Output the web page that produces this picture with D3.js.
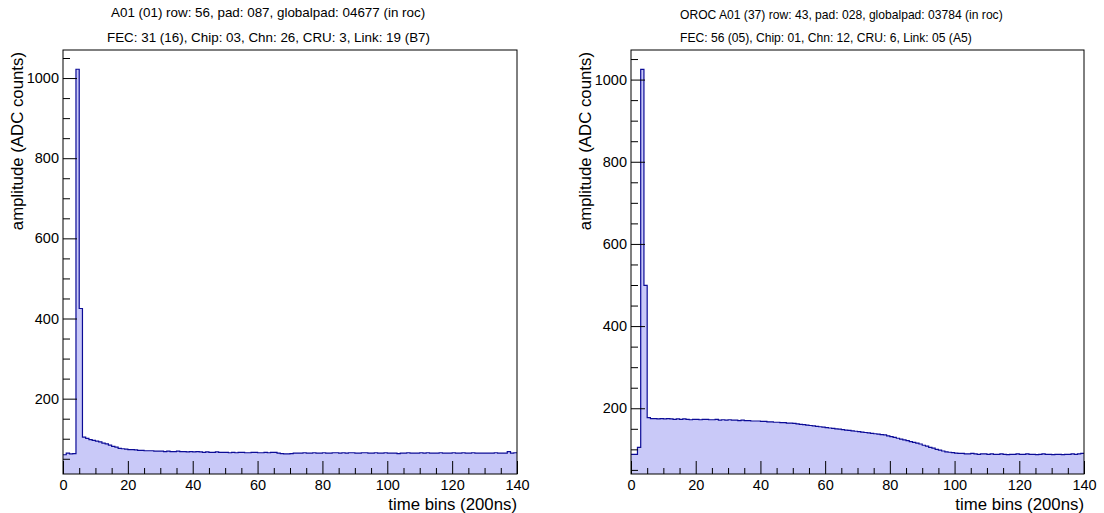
<!DOCTYPE html>
<html>
<head>
<meta charset="utf-8">
<script src="https://cdn.jsdelivr.net/npm/d3@7/dist/d3.min.js"></script>
<style>
  html, body { margin: 0; padding: 0; background: #fff; }
  svg { display: block; }
  text { font-family: "Liberation Sans", Arial, Helvetica, sans-serif; fill: #000; }
</style>
</head>
<body>
<svg id="chart" width="1104" height="513"></svg>
<script>
// ---------------- data ----------------
const timeBins = 140;
const xTicks = [0, 20, 40, 60, 80, 100, 120, 140];
const yTicks = [200, 400, 600, 800, 1000];

const titleLeft = ["A01 (01) row: 56, pad: 087, globalpad: 04677 (in roc)",
                   "FEC: 31 (16), Chip: 03, Chn: 26, CRU: 3, Link: 19 (B7)"];
const titleRight = ["OROC A01 (37) row: 43, pad: 028, globalpad: 03784 (in roc)",
                    "FEC: 56 (05), Chip: 01, Chn: 12, CRU: 6, Link: 05 (A5)"];
const xLabel = "time bins (200ns)";
const yLabel = "amplitude (ADC counts)";

const adcLeft = [
  60, 64, 62, 63, 1022, 425, 104, 101, 98, 96,
  94, 92, 89, 87, 84, 81, 79, 76, 75, 74,
  73, 73, 72, 71, 71, 70, 70, 70, 69, 69,
  69, 68, 69, 68, 68, 69, 68, 68, 67, 68,
  67, 68, 67, 66, 67, 66, 66, 67, 66, 66,
  66, 65, 66, 65, 66, 66, 65, 65, 66, 66,
  65, 65, 66, 65, 66, 66, 64, 63, 62, 62,
  63, 64, 64, 64, 65, 64, 64, 65, 64, 64,
  65, 64, 64, 65, 65, 64, 65, 64, 65, 65,
  64, 64, 65, 65, 64, 64, 65, 64, 64, 65,
  64, 64, 64, 63, 64, 64, 65, 64, 64, 64,
  65, 64, 65, 64, 64, 64, 65, 64, 64, 64,
  65, 64, 64, 65, 64, 64, 65, 64, 64, 64,
  64, 64, 64, 65, 64, 64, 64, 68, 64, 65
];

const adcRight = [
  88, 88, 105, 1025, 499, 177, 175, 175, 174, 175,
  174, 175, 174, 173, 174, 173, 174, 173, 172, 173,
  173, 172, 173, 173, 172, 172, 173, 171, 172, 171,
  172, 171, 171, 170, 171, 170, 170, 169, 169, 169,
  168, 168, 167, 167, 166, 166, 165, 165, 164, 164,
  163, 162, 161, 160, 159, 158, 157, 156, 155, 154,
  153, 152, 151, 150, 149, 148, 147, 146, 145, 144,
  143, 142, 141, 140, 139, 138, 137, 136, 135, 133,
  131, 129, 127, 125, 123, 121, 119, 117, 115, 113,
  110, 108, 105, 103, 100, 98, 96, 94, 93, 92,
  91, 90, 90, 89, 89, 90, 89, 88, 89, 89,
  88, 89, 88, 88, 89, 88, 87, 88, 88, 89,
  88, 88, 89, 88, 88, 87, 88, 89, 88, 88,
  87, 88, 88, 87, 88, 88, 89, 88, 89, 90
];

// ---------------- layout ----------------
const svg = d3.select("#chart");

const panels = [
  { values: adcLeft, titles: titleLeft, x0: 63, x1: 517, yDomain: [12, 1070],
    titleSize: 13.4, titleX: [111, 107], titleY: [17, 42] },
  { values: adcRight, titles: titleRight, x0: 631, x1: 1084, yDomain: [40, 1072],
    titleSize: 12.1, titleX: [680, 680], titleY: [19, 42] }
];
const frameTop = 50, frameBottom = 474;
const fillColor = "#c9c9f8";
const lineColor = "#0b0b96";

panels.forEach(p => {
  const g = svg.append("g");
  const x = d3.scaleLinear().domain([0, timeBins]).range([p.x0, p.x1]);
  const y = d3.scaleLinear().domain(p.yDomain).range([frameBottom, frameTop]);

  // histogram fill
  const pts = [];
  p.values.forEach((v, i) => { pts.push([x(i), y(v)]); pts.push([x(i + 1), y(v)]); });
  const area = d3.area().x(d => d[0]).y0(y(p.yDomain[0])).y1(d => d[1]);
  g.append("path").attr("d", area(pts)).attr("fill", fillColor).attr("stroke", "none");
  const line = d3.line().x(d => d[0]).y(d => d[1]);
  g.append("path").attr("d", line(pts)).attr("fill", "none")
    .attr("stroke", lineColor).attr("stroke-width", 1.2);

  // minor ticks
  const yMinor = d3.range(50, 1071, 50).filter(v => v >= p.yDomain[0] && v <= p.yDomain[1] && v % 200 !== 0);
  const xMinor = d3.range(0, 141, 5).filter(v => v % 20 !== 0);

  const ya = g.append("g").attr("transform", `translate(${p.x0},0)`)
    .call(d3.axisLeft(y).tickValues(yTicks).tickSize(-14).tickPadding(4).tickFormat(d3.format("d")));
  ya.select(".domain").remove();
  ya.selectAll("text").style("font-size", "14.5px").attr("fill", "#000");
  ya.selectAll("line").attr("stroke", "#000");
  const yb = g.append("g").attr("transform", `translate(${p.x0},0)`)
    .call(d3.axisLeft(y).tickValues(yMinor).tickSize(-7).tickFormat(""));
  yb.select(".domain").remove();
  yb.selectAll("line").attr("stroke", "#000");

  const xa = g.append("g").attr("transform", `translate(0,${frameBottom})`)
    .call(d3.axisBottom(x).tickValues(xTicks).tickSize(-13).tickPadding(6).tickFormat(d3.format("d")));
  xa.select(".domain").remove();
  xa.selectAll("text").style("font-size", "14.5px").attr("fill", "#000");
  xa.selectAll("line").attr("stroke", "#000");
  const xb = g.append("g").attr("transform", `translate(0,${frameBottom})`)
    .call(d3.axisBottom(x).tickValues(xMinor).tickSize(-6).tickFormat(""));
  xb.select(".domain").remove();
  xb.selectAll("line").attr("stroke", "#000");

  // frame
  g.append("rect").attr("x", p.x0).attr("y", frameTop)
    .attr("width", p.x1 - p.x0).attr("height", frameBottom - frameTop)
    .attr("fill", "none").attr("stroke", "#000").attr("stroke-width", 1);

  // axis titles
  g.append("text").attr("x", p.x1).attr("y", 510).attr("text-anchor", "end")
    .style("font-size", "16.8px").text(xLabel);
  g.append("text").attr("transform", `translate(${p.x0 - 40},52) rotate(-90)`)
    .attr("text-anchor", "end").style("font-size", "16.8px").text(yLabel);

  // titles
  p.titles.forEach((t, i) => {
    g.append("text").attr("x", p.titleX[i]).attr("y", p.titleY[i])
      .style("font-size", p.titleSize + "px").text(t);
  });
});
</script>
</body>
</html>
